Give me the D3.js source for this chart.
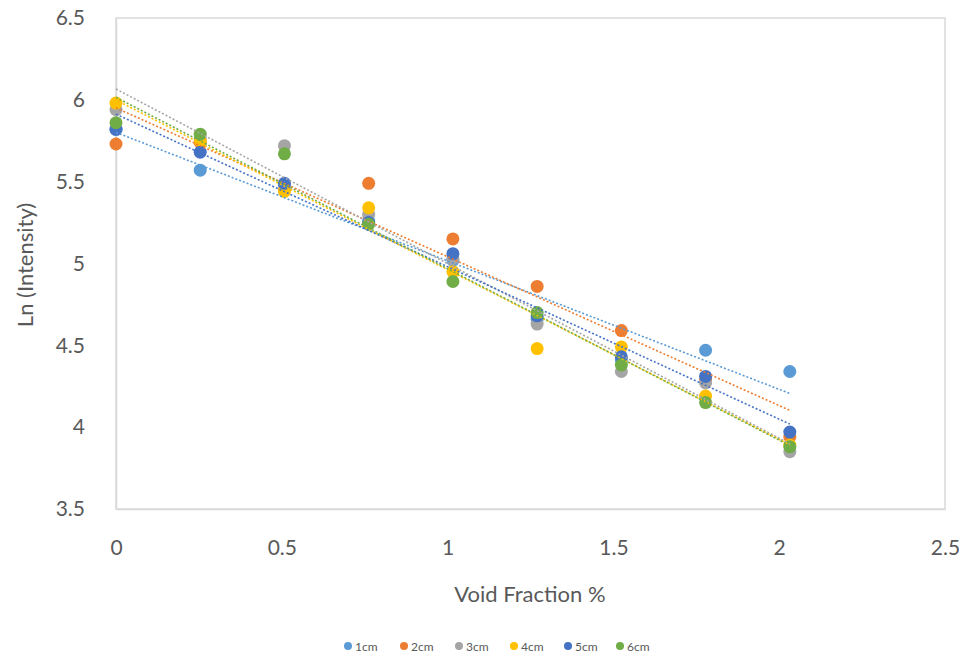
<!DOCTYPE html>
<html><head><meta charset="utf-8">
<script src="https://cdn.jsdelivr.net/npm/d3@7"></script>
<style>body{margin:0;background:#fff}svg{display:block}text{font-family:Lato,"Open Sans",sans-serif;fill:#595959}</style>
</head><body><svg id="c" width="970" height="661"></svg>
<script>
const voidFraction = [0, 0.254, 0.508, 0.762, 1.016, 1.27, 1.524, 1.778, 2.032];
const seriesNames = ["1cm", "2cm", "3cm", "4cm", "5cm", "6cm"];
const s1cm = [5.82, 5.57, 5.48, 5.26, 5.02, 4.66, 4.41, 4.47, 4.34];
const s2cm = [5.73, 5.74, 5.45, 5.49, 5.15, 4.86, 4.59, 4.29, 3.94];
const s3cm = [5.94, 5.76, 5.72, 5.30, 5.03, 4.63, 4.34, 4.27, 3.85];
const s4cm = [5.98, 5.75, 5.44, 5.34, 4.95, 4.48, 4.49, 4.19, 3.89];
const s5cm = [5.82, 5.68, 5.49, 5.25, 5.06, 4.68, 4.43, 4.31, 3.97];
const s6cm = [5.86, 5.79, 5.67, 5.24, 4.89, 4.70, 4.38, 4.15, 3.88];
const colors = ["#5B9BD5", "#ED7D31", "#A5A5A5", "#FFC000", "#4472C4", "#70AD47"];
const xTicks = [0, 0.5, 1, 1.5, 2, 2.5];
const yTicks = [3.5, 4, 4.5, 5, 5.5, 6, 6.5];
const allSeries = [s1cm, s2cm, s3cm, s4cm, s5cm, s6cm];

const svg = d3.select("#c");
const L = 116, R = 945, T = 18, B = 509;
const x = d3.scaleLinear().domain([0, 2.5]).range([L, R]);
const y = d3.scaleLinear().domain([3.5, 6.5]).range([B, T]);

// plot area border
svg.append("rect").attr("x", L).attr("y", T).attr("width", R - L).attr("height", B - T)
  .attr("fill", "none").attr("stroke", "#d9d9d9").attr("stroke-width", 1.5);

// axes
const xAxis = svg.append("g").attr("transform", `translate(0,${B})`)
  .call(d3.axisBottom(x).tickValues(xTicks).tickSize(0).tickPadding(31).tickFormat(d3.format("")));
xAxis.select(".domain").attr("stroke", "#d9d9d9").attr("stroke-width", 1.5);
xAxis.selectAll("text").style("font-size", "21px").style("fill", "#595959");
const yAxis = svg.append("g").attr("transform", `translate(${L},0)`)
  .call(d3.axisLeft(y).tickValues(yTicks).tickSize(0).tickPadding(31).tickFormat(d3.format("")));
yAxis.select(".domain").attr("stroke", "#d9d9d9").attr("stroke-width", 1.5);
yAxis.selectAll("text").style("font-size", "21px").style("fill", "#595959");

// axis titles
svg.append("text").attr("x", 530).attr("y", 602).attr("text-anchor", "middle")
  .style("font-size", "22px").text("Void Fraction %");
svg.append("text").attr("transform", "translate(33,265) rotate(-90)").attr("text-anchor", "middle")
  .style("font-size", "22px").text("Ln (Intensity)");

// points
allSeries.forEach((vals, i) => {
  svg.append("g").selectAll("circle").data(vals).join("circle")
    .attr("cx", (d, j) => x(voidFraction[j])).attr("cy", d => y(d)).attr("r", 6.5)
    .attr("fill", colors[i]);
});

// linear trend lines
allSeries.forEach((vals, i) => {
  const n = vals.length;
  const mx = d3.mean(voidFraction), my = d3.mean(vals);
  let sxy = 0, sxx = 0;
  vals.forEach((v, j) => { sxy += (voidFraction[j] - mx) * (v - my); sxx += (voidFraction[j] - mx) ** 2; });
  const slope = sxy / sxx, icpt = my - slope * mx;
  const x0 = 0, x1 = voidFraction[n - 1];
  svg.append("line").attr("x1", x(x0)).attr("y1", y(icpt + slope * x0))
    .attr("x2", x(x1)).attr("y2", y(icpt + slope * x1))
    .attr("stroke", colors[i]).attr("stroke-width", 1.6).attr("stroke-dasharray", "2,2");
});

// legend
const legX = [348, 404, 459, 514, 568, 620];
seriesNames.forEach((nm, i) => {
  svg.append("circle").attr("cx", legX[i]).attr("cy", 646).attr("r", 4).attr("fill", colors[i]);
  svg.append("text").attr("x", legX[i] + 7).attr("y", 650.5).style("font-size", "12px").text(nm);
});
</script></body></html>
